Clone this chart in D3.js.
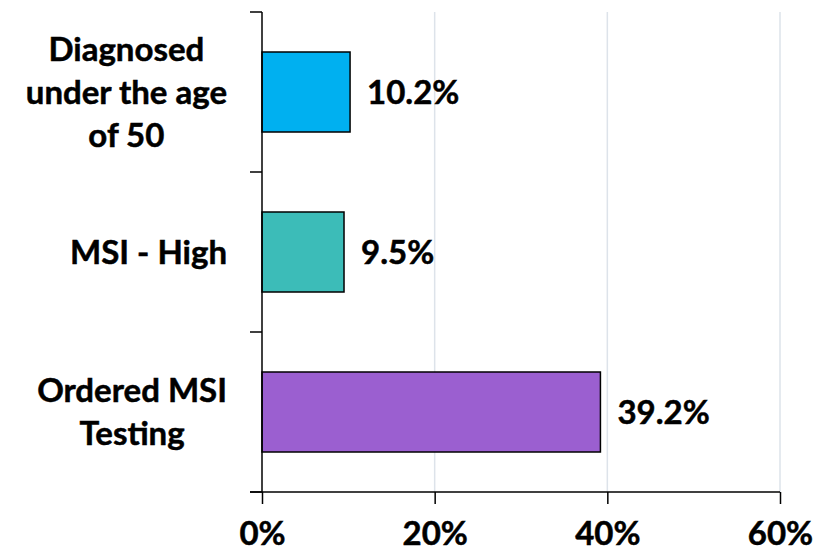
<!DOCTYPE html>
<html>
<head>
<meta charset="utf-8">
<script src="https://cdn.jsdelivr.net/npm/d3@7"></script>
<style>
  html, body { margin: 0; padding: 0; background: #fff; }
  svg text { font-family: Lato, "Open Sans", sans-serif; font-weight: 700; fill: #000; stroke: #000; stroke-width: 0.5px; }
</style>
</head>
<body>
<svg id="chart" width="830" height="557"></svg>
<script>
// Category labels (one entry per line) and values in percent
const categories = [
  ["Diagnosed", "under the age", "of 50"],
  ["MSI - High"],
  ["Ordered MSI", "Testing"]
];
const values = [10.2, 9.5, 39.2];
const colors = ["#00b0f0", "#3cbcb8", "#9b5fd0"];
const xTicks = [0, 20, 40, 60];

const svg = d3.select("#chart");
const plotLeft = 262, plotRight = 780, plotTop = 12, plotBottom = 492;
const fontSize = 33;

const x = d3.scaleLinear().domain([0, 60]).range([plotLeft, plotRight]);
const y = d3.scaleBand().domain(d3.range(categories.length)).range([plotTop, plotBottom]).paddingInner(0.5).paddingOuter(0.25);

// Vertical gridlines
svg.append("g").selectAll("line")
  .data(xTicks.filter(d => d > 0))
  .join("line")
  .attr("x1", d => x(d)).attr("x2", d => x(d))
  .attr("y1", plotTop).attr("y2", plotBottom)
  .attr("stroke", "#dde3ea").attr("stroke-width", 1.5);

// Bars
svg.append("g").selectAll("rect")
  .data(values)
  .join("rect")
  .attr("x", x(0))
  .attr("y", (d, i) => y(i))
  .attr("width", d => x(d) - x(0))
  .attr("height", y.bandwidth())
  .attr("fill", (d, i) => colors[i])
  .attr("stroke", "#000").attr("stroke-width", 1.5);

// Value labels
svg.append("g").selectAll("text")
  .data(values)
  .join("text")
  .attr("x", d => x(d) + 17)
  .attr("y", (d, i) => y(i) + y.bandwidth() / 2)
  .attr("dy", "0.36em")
  .attr("font-size", fontSize)
  .text(d => d.toFixed(1) + "%");

// X axis
const xAxis = svg.append("g")
  .attr("transform", `translate(0,${plotBottom})`)
  .call(d3.axisBottom(x).tickValues(xTicks).tickFormat(d => d + "%").tickSize(12).tickPadding(18));
xAxis.select(".domain").remove();
xAxis.append("line").attr("x1", plotLeft - 12).attr("x2", plotRight).attr("y1", 0).attr("y2", 0)
  .attr("stroke", "#000").attr("stroke-width", 1.5);
xAxis.selectAll(".tick line").attr("stroke", "#000").attr("stroke-width", 1.5);
xAxis.selectAll(".tick text").attr("font-size", fontSize).attr("fill", "#000")
  .style("font-family", "Lato, 'Open Sans', sans-serif").style("font-weight", 700);

// Y axis line with tick marks at band boundaries
const yAxis = svg.append("g");
yAxis.append("line").attr("x1", plotLeft).attr("x2", plotLeft).attr("y1", plotTop).attr("y2", plotBottom)
  .attr("stroke", "#000").attr("stroke-width", 1.5);
const boundaries = d3.range(categories.length + 1).map(i => plotTop + i * (plotBottom - plotTop) / categories.length);
yAxis.selectAll("line.tk").data(boundaries).join("line").attr("class", "tk")
  .attr("x1", plotLeft - 12).attr("x2", plotLeft).attr("y1", d => d).attr("y2", d => d)
  .attr("stroke", "#000").attr("stroke-width", 1.5);

// Category labels: each block is right-aligned against the axis, lines centred inside the block
const lineH = 43, labelRight = 227;
svg.append("g").selectAll("text")
  .data(categories)
  .join("text")
  .attr("text-anchor", "middle")
  .attr("font-size", fontSize)
  .attr("y", (d, i) => y(i) + y.bandwidth() / 2 - (d.length - 1) * lineH / 2)
  .each(function(lines) {
    const t = d3.select(this);
    const spans = t.selectAll("tspan").data(lines).join("tspan")
      .attr("dy", (l, j) => j === 0 ? "0.36em" : lineH)
      .text(l => l);
    const blockW = d3.max(spans.nodes(), n => n.getComputedTextLength());
    spans.attr("x", labelRight - blockW / 2);
  });
</script>
</body>
</html>
